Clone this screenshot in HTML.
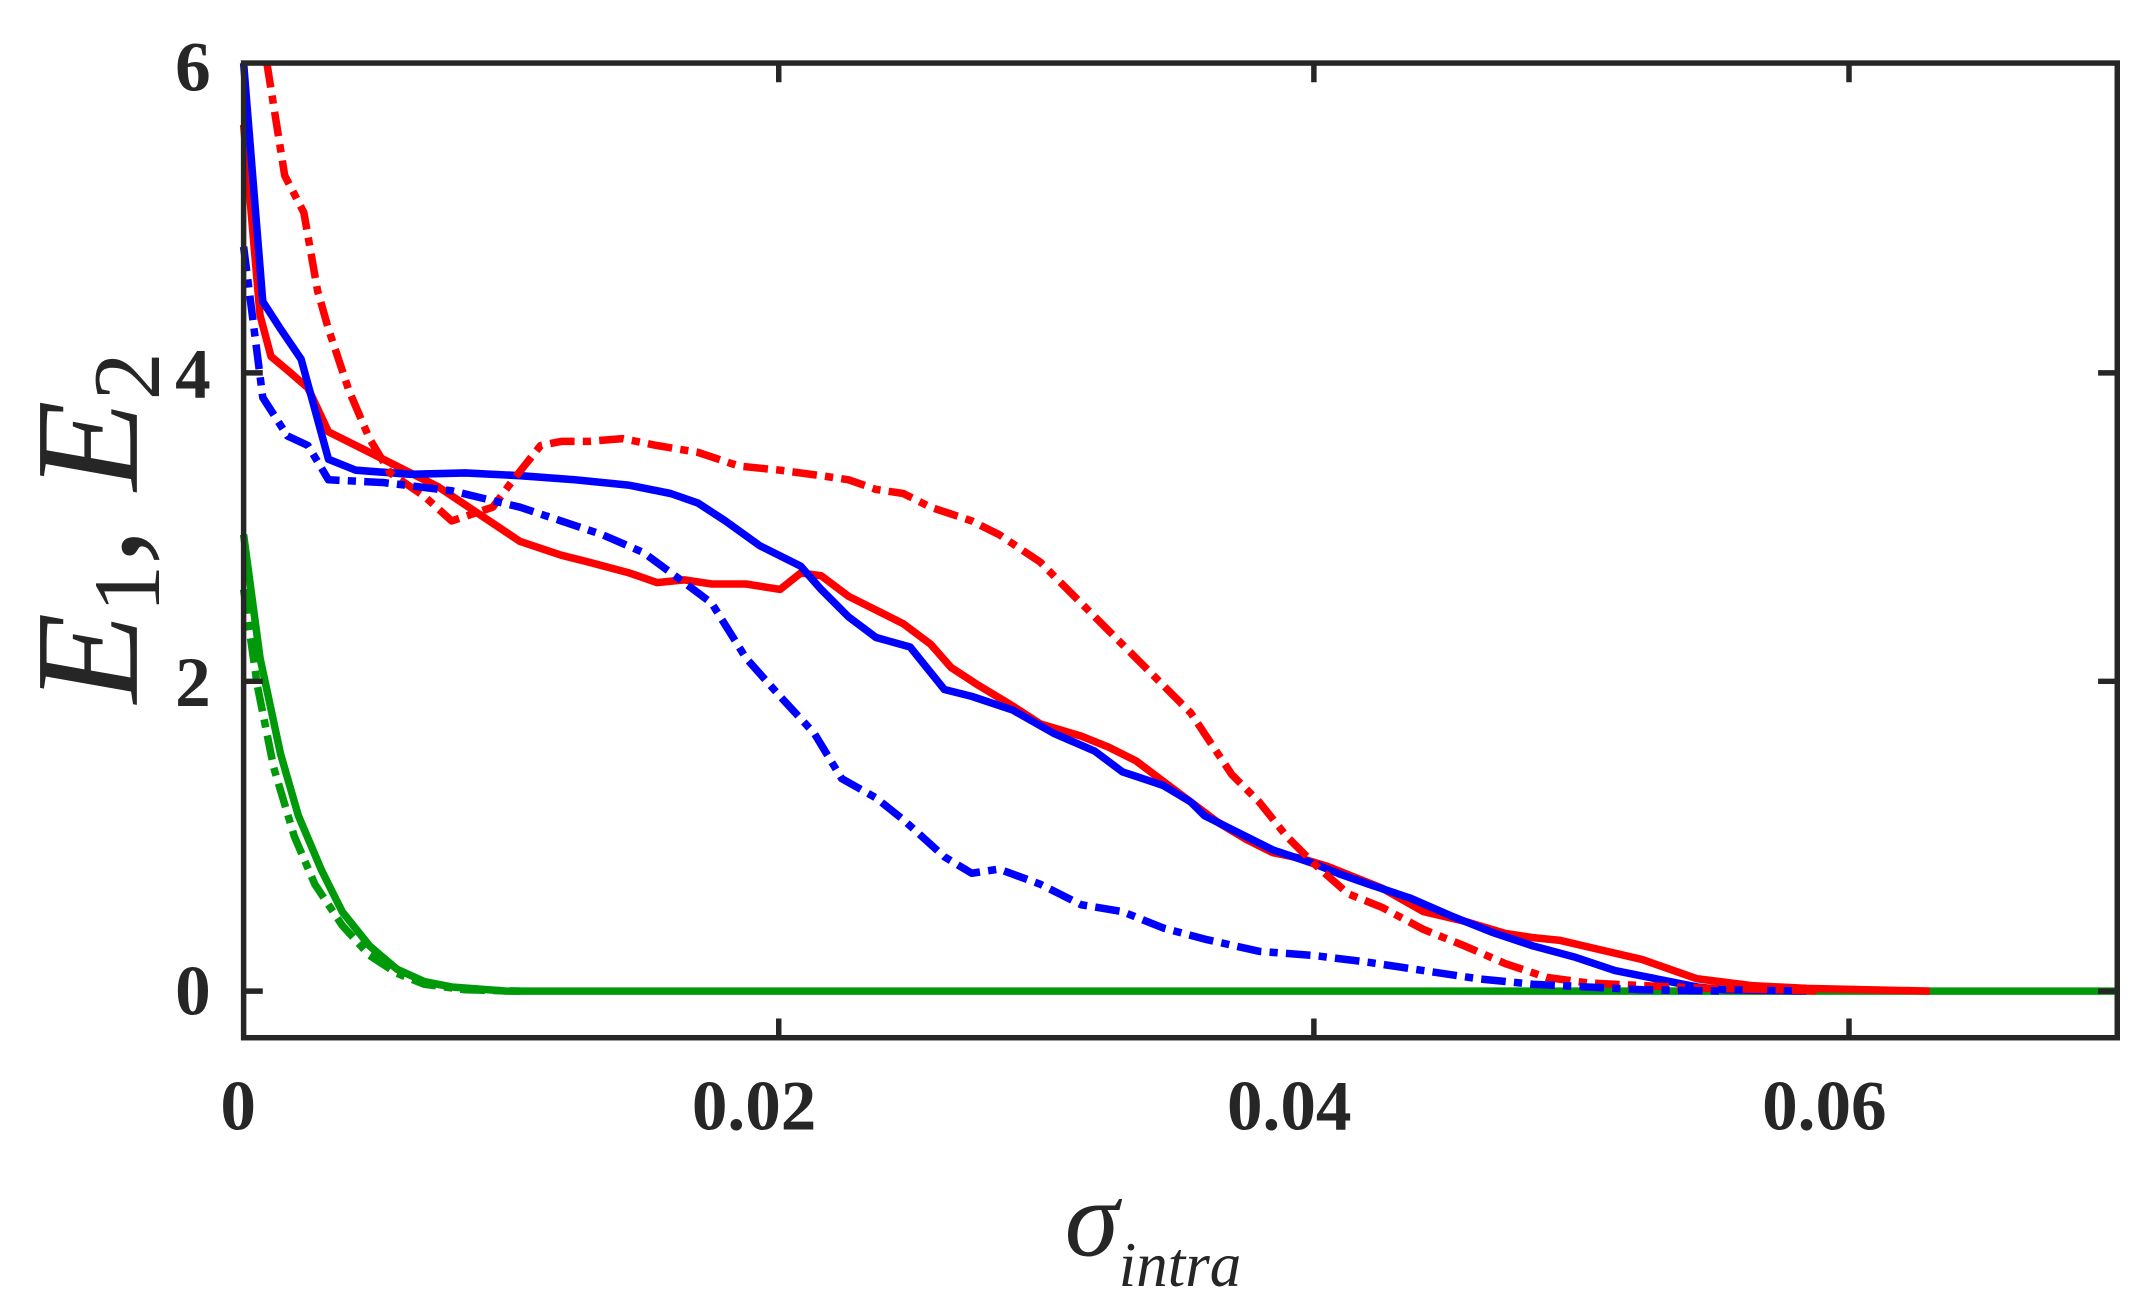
<!DOCTYPE html>
<html><head><style>html,body{margin:0;padding:0;background:#fff;}svg{display:block;}</style></head>
<body>
<svg width="2146" height="1316" viewBox="0 0 1568 960" preserveAspectRatio="none" xmlns="http://www.w3.org/2000/svg">
<rect width="1568" height="960" fill="#fff"/>
<g fill="none" stroke-width="5.5" stroke-linejoin="round">
<polyline stroke="#00990a" points="178,390 190,480 205,550 218,595 235,635 250,665 270,690 290,707 310,716 330,720 370,723 1547,723"/>
<polyline stroke="#00990a" stroke-dasharray="18,6,6,6" points="178,430 188,500 200,560 215,610 230,645 250,675 270,697 290,710 310,718 340,722 380,723"/>
<polyline stroke="#ff0000" points="178,91 190,230 198,260 210,270 225,283 240,315 260,325 290,340 320,355 350,375 380,395 410,405 430,410 460,418 480,425 500,423 520,426 545,426 570,430 585,418 600,420 620,435 640,445 660,455 680,470 695,487 715,500 740,515 760,528 790,537 810,545 830,555 850,570 870,585 890,600 910,612 930,622 950,626 970,632 990,640 1010,648 1040,665 1070,672 1100,681 1120,684 1140,686 1170,693 1200,700 1240,714 1280,719 1320,721 1410,723"/>
<polyline stroke="#0000ff" points="178,46 192,220 205,240 220,262 240,335 260,343 300,346 340,345 380,347 420,350 460,354 490,360 510,367 530,380 555,398 585,413 600,430 620,450 640,465 665,472 690,503 710,508 740,518 770,535 800,548 820,563 850,573 870,585 880,595 900,605 930,620 960,630 980,638 1000,645 1030,655 1060,668 1090,680 1120,690 1150,698 1180,708 1210,714 1240,720 1260,722 1320,723"/>
<polyline stroke="#ff0000" stroke-dasharray="18,6,6,6" points="195,46 208,128 222,155 232,212 240,240 255,285 270,320 285,345 310,362 330,380 345,375 360,370 375,350 395,325 410,322 430,322 455,320 480,325 510,330 540,340 570,343 600,347 620,350 640,357 660,360 680,370 710,380 730,390 760,410 790,440 820,470 850,500 870,520 900,565 920,585 940,610 960,630 985,652 1010,662 1040,678 1070,690 1100,703 1130,713 1160,717 1200,719 1250,721 1300,722 1330,723"/>
<polyline stroke="#0000ff" stroke-dasharray="18,6,6,6" points="178,180 192,290 210,318 225,325 240,350 280,352 330,358 380,370 410,380 440,390 470,403 500,425 520,440 545,480 570,508 595,535 615,568 640,582 660,598 690,625 710,637 730,634 760,645 790,660 820,665 850,677 880,685 920,694 960,697 1000,702 1040,708 1080,714 1120,718 1160,720 1200,722 1260,723"/>
</g>
<g stroke="#262626" stroke-width="4" fill="none">
<rect x="178" y="46" width="1369" height="711"/>
<path d="M569,757v-14M960,757v-14M1351,757v-14M569,46v14M960,46v14M1351,46v14M178,723h14M178,497h14M178,272h14M1547,723h-14M1547,497h-14M1547,272h-14"/>
</g>
<g font-family="Liberation Serif, serif" font-weight="bold" font-size="52" fill="#262626">
<g text-anchor="end"><text x="154" y="66">6</text><text x="154" y="290">4</text><text x="154" y="515">2</text><text x="154" y="740">0</text></g>
<g text-anchor="middle"><text x="174" y="824">0</text><text x="551" y="824">0.02</text><text x="942" y="824">0.04</text><text x="1333" y="824">0.06</text></g>
</g>
<text x="778" y="916" font-family="Liberation Serif, serif" font-style="italic" font-size="80" fill="#262626">σ<tspan font-size="46" dy="22">intra</tspan></text>
<text transform="translate(100,385) rotate(-90)" text-anchor="middle" font-family="Liberation Serif, serif" font-style="italic" font-size="108" fill="#262626">E<tspan font-size="70" font-style="normal" dy="16">1</tspan><tspan dy="-16">, E</tspan><tspan font-size="70" font-style="normal" dy="16">2</tspan></text>
</svg>
</body></html>
